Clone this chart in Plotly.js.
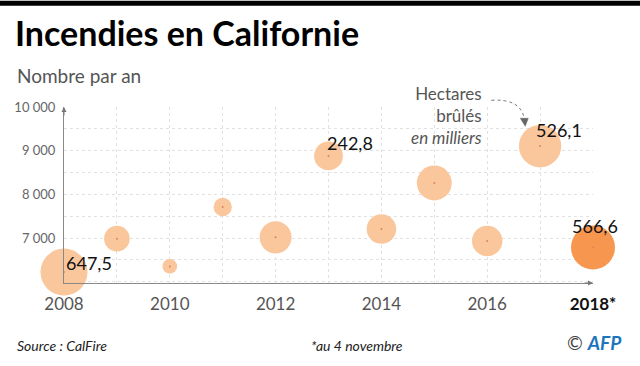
<!DOCTYPE html>
<html>
<head>
<meta charset="utf-8">
<script src="https://cdn.plot.ly/plotly-3.0.1.min.js"></script>
<style>
html,body{margin:0;padding:0;background:#fff;}
#chart{width:640px;height:366px;}
</style>
</head>
<body>
<div id="chart"></div>
<script>
// ---- data ----
var years = [2008, 2009, 2010, 2011, 2012, 2013, 2014, 2015, 2016, 2017, 2018];
var fires = [6220, 6985, 6350, 7710, 7015, 8880, 7205, 8260, 6930, 9105, 6785];
var hectares = [647.5, 192, 63, 98, 300, 242.8, 255, 357, 272, 526.1, 566.6];
var labelledYears = [2008, 2013, 2017, 2018];
var highlightYear = 2018;
var xTickVals = [2008, 2010, 2012, 2014, 2016, 2018];
var xTickText = ['2008', '2010', '2012', '2014', '2016', '2018*'];
var yTickVals = [7000, 8000, 9000, 10000];

// ---- layout geometry ----
var W = 640, H = 366;
var ML = 64, MR = 47.3, MT = 106.7, MB = 82.7;
var PW = W - ML - MR, PH = H - MT - MB;
function px(x) { return (x - ML) / PW; }
function py(y) { return 1 - (y - MT) / PH; }

var FONT = 'Lato, "Open Sans", sans-serif';
// plotly area mode: diameter = 2*sqrt(v/(2*sizeref)); 566.6 -> ~44px
var sizeref = 2 * 566.6 / (44 * 44);

var colors = years.map(function (y) { return y === highlightYear ? '#f7964f' : '#fac79c'; });
var tickText = xTickText.map(function (t, i) {
  return xTickVals[i] === highlightYear ? '<b><span style="color:#111">' + t + '</span></b>' : t;
});

var bubbles = {
  type: 'scatter', mode: 'markers', x: years, y: fires,
  marker: { size: hectares, sizemode: 'area', sizeref: sizeref, color: colors, line: { width: 0 }, opacity: 1 },
  cliponaxis: false, hoverinfo: 'skip'
};
var dots = {
  type: 'scatter', mode: 'markers', x: years, y: fires,
  marker: { size: 2, color: '#d8875a' }, cliponaxis: false, hoverinfo: 'skip'
};

var labelShift = { 2008: [0, 9, 'left'], 2013: [-4, 13, 'left'], 2017: [-6, 16, 'left'], 2018: [2, 21, 'center'] };
var annotations = [];
years.forEach(function (y, i) {
  if (labelledYears.indexOf(y) < 0) return;
  var s = labelShift[y];
  annotations.push({
    x: y, y: fires[i], xref: 'x', yref: 'y', showarrow: false,
    text: hectares[i].toFixed(1).replace('.', ','),
    xanchor: s[2], yanchor: 'middle', xshift: s[0], yshift: s[1],
    font: { family: FONT, size: 18, color: '#111' }
  });
});
// axis arrows
annotations.push({ x: 0, y: 1, xref: 'paper', yref: 'paper', text: '', showarrow: true,
  arrowhead: 2, arrowsize: 1, arrowwidth: 1, arrowcolor: '#777', ax: 0, ay: 10 });
annotations.push({ x: 1, y: 0, xref: 'paper', yref: 'paper', text: '', showarrow: true,
  arrowhead: 2, arrowsize: 1, arrowwidth: 1, arrowcolor: '#777', ax: -10, ay: 0 });
// text blocks
annotations.push({ x: px(15), y: py(75), xref: 'paper', yref: 'paper', xanchor: 'left', yanchor: 'middle',
  showarrow: false, text: 'Nombre par an', font: { family: FONT, size: 19, color: '#555' } });
annotations.push({ x: px(484), y: py(115), xref: 'paper', yref: 'paper', xanchor: 'right', yanchor: 'middle',
  align: 'right', showarrow: false, text: 'Hectares<br>brûlés<br><i>en milliers</i>',
  font: { family: FONT, size: 17, color: '#555' } });
annotations.push({ x: px(15), y: py(346), xref: 'paper', yref: 'paper', xanchor: 'left', yanchor: 'middle',
  showarrow: false, text: '<i>Source : CalFire</i>', font: { family: FONT, size: 14, color: '#222' } });
annotations.push({ x: px(357), y: py(346), xref: 'paper', yref: 'paper', xanchor: 'center', yanchor: 'middle',
  showarrow: false, text: '<i>*au 4 novembre</i>', font: { family: FONT, size: 14, color: '#222' } });
annotations.push({ x: px(624), y: py(343), xref: 'paper', yref: 'paper', xanchor: 'right', yanchor: 'middle',
  showarrow: false, text: '<span style="color:#444">©</span> <b><i><span style="color:#1b75bc">AFP</span></i></b>',
  font: { family: FONT, size: 19, color: '#1b75bc' } });

function P(x, y) { return px(x).toFixed(5) + ',' + py(y).toFixed(5); }
var shapes = [
  { type: 'rect', xref: 'paper', yref: 'paper', x0: px(0), x1: px(W), y0: py(5), y1: py(0),
    fillcolor: '#000', line: { width: 0 }, layer: 'above' },
  { type: 'path', xref: 'paper', yref: 'paper', path: 'M' + P(491, 100) + ' Q' + P(521, 98) + ' ' + P(524, 119),
    line: { color: '#777', width: 1, dash: 'dot' } },
  { type: 'path', xref: 'paper', yref: 'paper', path: 'M' + P(520, 118) + ' L' + P(528, 118) + ' L' + P(525, 126) + ' Z',
    fillcolor: '#666', line: { color: '#666', width: 0.5 } }
];

var GRID = '#e2e2e2';
var layout = {
  width: W, height: H,
  margin: { l: ML, r: MR, t: MT, b: MB, pad: 0 },
  paper_bgcolor: '#fff', plot_bgcolor: '#fff',
  separators: ', ',
  showlegend: false,
  title: { text: '<b>Incendies en Californie</b>', xref: 'container', yref: 'container',
    x: 15 / W, xanchor: 'left', y: 1 - 34 / H, yanchor: 'middle',
    font: { family: FONT, size: 34, color: '#000' } },
  xaxis: {
    range: [2008, 2018], tickvals: xTickVals, ticktext: tickText,
    showline: true, linecolor: '#888', linewidth: 1, zeroline: false,
    showgrid: true, gridcolor: GRID, griddash: 'dot', gridwidth: 1,
    tickmode: 'array', ticks: '', ticklabelstandoff: 6,
    tickfont: { family: FONT, size: 17, color: '#555' }, layer: 'above traces', fixedrange: true
  },
  yaxis: {
    range: [5970, 10000], tickvals: yTickVals, tickformat: ',d',
    showline: true, linecolor: '#888', linewidth: 1, zeroline: false,
    showgrid: true, gridcolor: GRID, griddash: 'dot', gridwidth: 1,
    ticks: '', ticklabelstandoff: 5,
    tickfont: { family: FONT, size: 13, color: '#666' }, layer: 'above traces', fixedrange: true
  },
  shapes: shapes,
  annotations: annotations
};
// minor gridlines at half steps
layout.xaxis.minor = { dtick: 1, tick0: 2008, showgrid: true, gridcolor: GRID, griddash: 'dot', gridwidth: 1 };
layout.yaxis.minor = { dtick: 500, tick0: 6000, showgrid: true, gridcolor: GRID, griddash: 'dot', gridwidth: 1 };

Plotly.newPlot('chart', [bubbles, dots], layout, { staticPlot: true, displayModeBar: false });
</script>
</body>
</html>
